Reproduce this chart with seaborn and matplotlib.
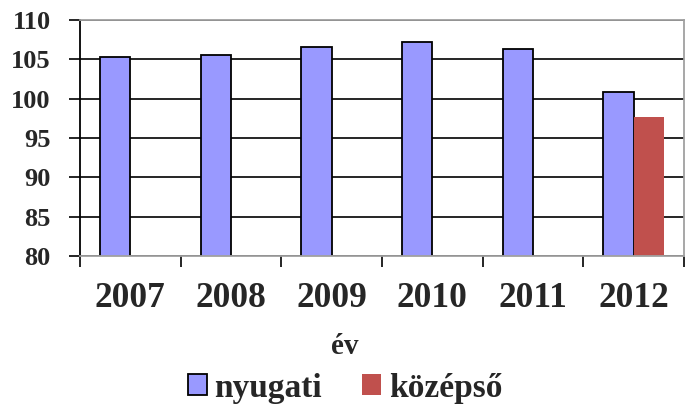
import matplotlib
matplotlib.use("Agg")
import matplotlib.pyplot as plt
import seaborn as sns
import pandas as pd
import numpy as np
from matplotlib.patches import Patch

years = ["2007", "2008", "2009", "2010", "2011", "2012"]
nyugati = [105.3, 105.5, 106.6, 107.2, 106.3, 100.8]
kozepso_years = ["2012"]
kozepso = [97.7]
series_names = ["nyugati", "középső"]
colors = {"nyugati": "#9999FF", "középső": "#C0504D"}
yticks = [80, 85, 90, 95, 100, 105, 110]

df = pd.DataFrame({
    "év": years + kozepso_years,
    "érték": nyugati + kozepso,
    "régió": ["nyugati"] * len(nyugati) + ["középső"] * len(kozepso),
})

sns.set_theme(style="white")
plt.rcParams["font.family"] = ["Liberation Serif", "DejaVu Serif"]
plt.rcParams["font.weight"] = "bold"

fig = plt.figure(figsize=(6.85, 4.05), dpi=100)
ax = fig.add_axes([80 / 685, (405 - 256) / 405, 604 / 685, 236 / 405])

sns.barplot(data=df, x="év", y="érték", hue="régió", order=years,
            hue_order=series_names, palette=colors, width=0.6,
            dodge=True, ax=ax, legend=False, saturation=1)

for p in ax.patches:
    if p.get_facecolor()[:3] == matplotlib.colors.to_rgb(colors["nyugati"]):
        p.set_edgecolor("black")
        p.set_linewidth(1.3)
    else:
        p.set_edgecolor("none")
    p.set_zorder(3)

ax.set_ylim(80, 110)
ax.set_xlim(-0.5, len(years) - 0.5)
ax.set_yticks(yticks)
ax.set_yticklabels([str(v) for v in yticks])
ax.yaxis.grid(True, color="black", linewidth=1.2, zorder=1)
ax.set_axisbelow(True)

ax.set_xticks(range(len(years)))
ax.set_xticklabels(years)
ax.set_xticks(np.arange(-0.5, len(years), 1.0), minor=True)
ax.tick_params(axis="x", which="major", length=0, pad=19, labelsize=25.5)
ax.tick_params(axis="x", which="minor", length=8, width=1.2, color="black",
               direction="out", bottom=True)
ax.tick_params(axis="y", which="major", length=8, width=1.2, color="black",
               direction="out", left=True, pad=13, labelsize=19)
for lab in ax.get_xticklabels() + ax.get_yticklabels():
    lab.set_fontweight("bold")

ax.set_xlabel("év", fontsize=21, fontweight="bold")
ax.xaxis.set_label_coords((345 - 80) / 604, -(333 - 256) / 236)
ax.set_ylabel("")

ax.spines["left"].set_color("black")
ax.spines["left"].set_linewidth(1.3)
for s in ["top", "right", "bottom"]:
    ax.spines[s].set_color("#a0a0a0")
    ax.spines[s].set_linewidth(1.3)
    ax.spines[s].set_zorder(4)

handles = [Patch(facecolor=colors["nyugati"], edgecolor="black", linewidth=1.3),
           Patch(facecolor=colors["középső"], edgecolor="none")]
fig.legend(handles, series_names, loc="center", bbox_to_anchor=(345 / 685, (405 - 388) / 405),
           ncol=2, frameon=False, prop={"size": 24, "weight": "bold"},
           handlelength=0.58, handleheight=0.58, handletextpad=0.22,
           columnspacing=1.2, borderpad=0, borderaxespad=0)

fig.savefig("out.png", dpi=100)
